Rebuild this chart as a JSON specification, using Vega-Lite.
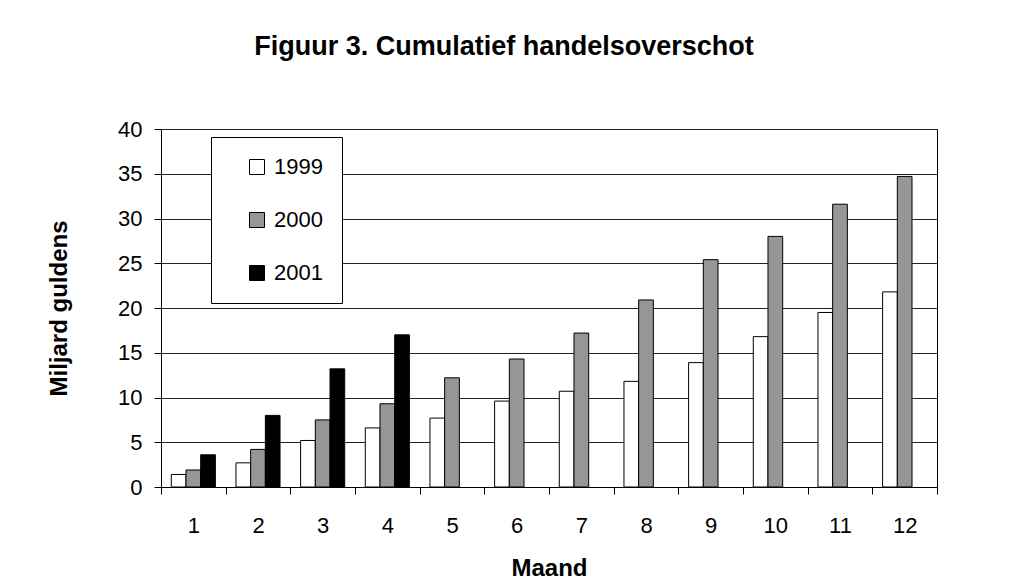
{
  "$schema": "https://vega.github.io/schema/vega-lite/v6.json",
  "autosize": "none",
  "width": 776,
  "height": 358,
  "padding": {"left": 161, "top": 129, "right": 72, "bottom": 96},
  "background": "white",
  "title": {
    "text": "Figuur 3. Cumulatief handelsoverschot",
    "font": "Liberation Sans",
    "fontSize": 27,
    "fontWeight": "bold",
    "color": "black",
    "anchor": "middle",
    "baseline": "alphabetic",
    "offset": 36,
    "dx": -45
  },
  "data": {
    "values": [
      {"maand": "1", "jaar": "1999", "waarde": 1.4},
      {"maand": "1", "jaar": "2000", "waarde": 1.9},
      {"maand": "1", "jaar": "2001", "waarde": 3.6},
      {"maand": "2", "jaar": "1999", "waarde": 2.7},
      {"maand": "2", "jaar": "2000", "waarde": 4.2},
      {"maand": "2", "jaar": "2001", "waarde": 8.0},
      {"maand": "3", "jaar": "1999", "waarde": 5.2},
      {"maand": "3", "jaar": "2000", "waarde": 7.5},
      {"maand": "3", "jaar": "2001", "waarde": 13.2},
      {"maand": "4", "jaar": "1999", "waarde": 6.6},
      {"maand": "4", "jaar": "2000", "waarde": 9.3},
      {"maand": "4", "jaar": "2001", "waarde": 17.0},
      {"maand": "5", "jaar": "1999", "waarde": 7.7},
      {"maand": "5", "jaar": "2000", "waarde": 12.2},
      {"maand": "6", "jaar": "1999", "waarde": 9.6},
      {"maand": "6", "jaar": "2000", "waarde": 14.3},
      {"maand": "7", "jaar": "1999", "waarde": 10.7},
      {"maand": "7", "jaar": "2000", "waarde": 17.2},
      {"maand": "8", "jaar": "1999", "waarde": 11.8},
      {"maand": "8", "jaar": "2000", "waarde": 20.9},
      {"maand": "9", "jaar": "1999", "waarde": 13.9},
      {"maand": "9", "jaar": "2000", "waarde": 25.4},
      {"maand": "10", "jaar": "1999", "waarde": 16.8},
      {"maand": "10", "jaar": "2000", "waarde": 28.0},
      {"maand": "11", "jaar": "1999", "waarde": 19.5},
      {"maand": "11", "jaar": "2000", "waarde": 31.6},
      {"maand": "12", "jaar": "1999", "waarde": 21.8},
      {"maand": "12", "jaar": "2000", "waarde": 34.7}
    ]
  },
  "mark": {"type": "bar", "stroke": "black", "strokeWidth": 1},
  "encoding": {
    "x": {
      "field": "maand",
      "type": "ordinal",
      "sort": ["1","2","3","4","5","6","7","8","9","10","11","12"],
      "scale": {"paddingInner": 0, "paddingOuter": 0},
      "axis": {
        "title": "Maand",
        "labelAngle": 0,
        "tickBand": "extent",
        "tickSize": 7,
        "labelPadding": 21,
        "titlePadding": 20,
        "grid": false
      }
    },
    "xOffset": {
      "field": "jaar",
      "type": "nominal",
      "scale": {"domain": ["1999","2000","2001"], "paddingInner": 0, "paddingOuter": 0.7}
    },
    "y": {
      "field": "waarde",
      "type": "quantitative",
      "scale": {"domain": [0, 40], "nice": false},
      "axis": {
        "title": "Miljard guldens",
        "values": [0,5,10,15,20,25,30,35,40],
        "tickSize": 7,
        "labelPadding": 12,
        "titlePadding": 46,
        "grid": true
      }
    },
    "fill": {
      "field": "jaar",
      "type": "nominal",
      "scale": {"domain": ["1999","2000","2001"], "range": ["#ffffff","#969696","#000000"]},
      "legend": {
        "title": "\u00a0",
        "titleOrient": "right",
        "titlePadding": 0,
        "titleFontSize": 22,
        "titleLimit": 200,
        "orient": "none",
        "legendX": 50,
        "legendY": 8,
        "direction": "vertical",
        "padding": 19,
        "symbolType": "square",
        "symbolSize": 225,
        "symbolStrokeColor": "black",
        "symbolStrokeWidth": 1,
        "symbolOffset": 16,
        "labelOffset": 6,
        "rowPadding": 31,
        "labelFontSize": 22,
        "labelFont": "Liberation Sans",
        "labelColor": "black",
        "strokeColor": "black",
        "fillColor": "white"
      }
    }
  },
  "config": {
    "font": "Liberation Sans",
    "view": {"stroke": "black", "strokeWidth": 1},
    "axis": {
      "labelFont": "Liberation Sans",
      "labelFontSize": 22,
      "labelColor": "black",
      "titleFont": "Liberation Sans",
      "titleFontSize": 24,
      "titleFontWeight": "bold",
      "titleColor": "black",
      "domainColor": "black",
      "tickColor": "black",
      "gridColor": "#222222",
      "gridWidth": 1,
      "gridOpacity": 1
    }
  }
}
